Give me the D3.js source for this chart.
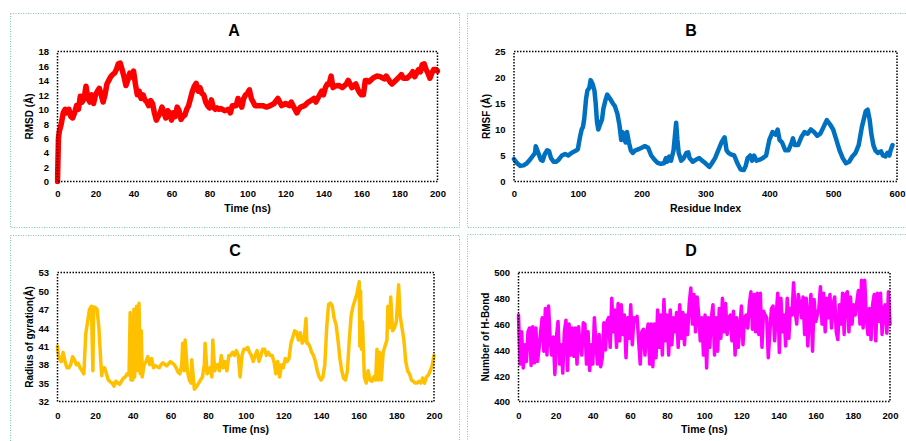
<!DOCTYPE html>
<html><head><meta charset="utf-8">
<script src="https://cdn.jsdelivr.net/npm/d3@7"></script>
<style>body{margin:0;background:#fff}svg{display:block}text{font-family:"Liberation Sans",Arial,sans-serif;font-weight:bold;fill:#000}</style>
</head><body><svg id="c" width="906" height="441"></svg>
<script>
// ---- Data ----
const rmsdData = [[0,0],[0.5,6],[1,7],[2,8],[3,9.5],[4,10],[5,9.5],[6,10],[7,9],[8,8.8],[9,9.5],[10,10.5],[11,10],[12,11.8],[13,11],[14,11.5],[15,13.2],[16,11.5],[17,11],[18,12],[19,10.8],[20,12],[21,12.5],[22,12.9],[23,12],[24,11],[25,12],[26,13.5],[27,14],[28,14.5],[29,14.8],[30,15],[31,15.5],[32,16.3],[33,16.4],[34,15.5],[35,14.5],[36,13.3],[37,14],[38,15],[39,14.5],[40,15.3],[41,13.5],[42,12],[43,12.5],[44,11.5],[45,12],[46,11.3],[47,11],[48,10.5],[49,11.2],[50,10.8],[51,9.5],[52,8.5],[53,9],[54,9.5],[55,10.3],[56,9.5],[57,8.8],[58,9.8],[59,9.5],[60,8.5],[61,9.5],[62,9],[63,10.3],[64,9.8],[65,8.6],[66,9],[67,9.2],[68,10],[69,10.5],[70,11.5],[71,12.5],[72,13.2],[73,13.6],[74,12.5],[75,13],[76,12.2],[77,12],[78,11],[79,10.5],[80,10.2],[81,11.3],[82,10.3],[83,10],[84,10.2],[85,10],[86,10.1],[88,9.8],[90,10],[91,9.5],[92,10.5],[94,10.5],[95,11.5],[96,10.8],[97,10.3],[98,11.5],[99,12],[100,12.2],[101,12.7],[102,11.5],[103,11],[104,10.5],[106,10.5],[108,10.5],[110,10.3],[112,10.5],[114,10.8],[116,11.5],[118,10.5],[120,10.8],[122,10.5],[123,11],[124,10.5],[126,9.5],[127,10],[128,10.3],[130,10.5],[132,11],[134,11.3],[135,11.5],[136,11],[138,12],[139,12.5],[140,12],[141,13],[142,13.5],[143,13.5],[144,14.6],[145,13],[146,13.2],[148,13.3],[150,13],[152,13.5],[153,14],[154,13.5],[155,13],[156,13.3],[157,13.5],[158,12.8],[159,12.3],[160,12],[161,12],[162,14],[163,14],[164,13.8],[166,14.3],[168,14.6],[170,14.5],[172,14.2],[173,14.6],[175,13.8],[176,13.5],[178,14],[180,14.5],[181,14.8],[182,14.3],[184,14.3],[186,14.8],[187,15.2],[188,14.5],[189,15],[190,15.5],[191,15.2],[192,16.2],[193,16.3],[194,15.5],[195,15],[196,14.3],[197,15],[198,15.5],[199,15.5],[200,15.3]];

const rmsfData = [[0,4.3],[5,3.5],[10,3.0],[15,3.1],[20,3.5],[25,4.2],[30,5],[33,5.5],[34,6.8],[38,5.5],[42,4.2],[45,4.0],[48,5.2],[52,6.0],[55,5.8],[58,4.5],[62,3.8],[66,3.8],[70,4.2],[75,5.0],[80,5.3],[85,5.0],[90,5.5],[95,5.8],[100,6.2],[103,8.3],[106,10],[108,10.5],[110,12],[113,16],[115,17.5],[118,18],[120,19.5],[123,18.8],[126,17.5],[128,15],[130,11.5],[132,10],[135,11],[138,12],[140,14],[143,15.5],[146,16.7],[150,16],[155,15],[158,14.5],[162,13],[165,11],[168,8],[170,9.5],[173,8],[175,7.5],[177,9.5],[180,7.5],[183,6],[186,5.5],[190,6],[195,6.2],[200,6.5],[205,6.8],[210,6.5],[215,5],[220,4.2],[225,3.6],[230,3.4],[235,3.5],[238,4.5],[240,3.8],[243,4.8],[246,4.0],[250,6],[254,11.3],[256,8],[258,5.5],[262,4.0],[266,4.5],[270,5.5],[273,5.6],[275,4.5],[280,3.8],[285,4.2],[290,4.5],[295,4.0],[300,3.5],[306,2.8],[310,3.5],[315,4.5],[320,6],[325,7.5],[330,8.5],[333,6],[336,5.5],[340,5.2],[345,5],[350,3.5],[355,2.3],[360,2.2],[363,3],[366,4.5],[370,5],[373,4.0],[376,5],[380,4],[385,4.2],[390,4.5],[395,5],[400,8],[405,9.5],[410,9.0],[413,10],[416,8],[420,7.5],[425,6],[430,6],[435,7.5],[437,8.3],[440,7],[445,7],[450,8.5],[455,9.5],[460,9.2],[465,10],[470,9.5],[475,8.8],[480,9.2],[485,10.5],[490,11.8],[495,11],[500,10],[505,8],[510,6],[515,4.5],[520,3.5],[525,3.8],[530,4.8],[535,5.5],[540,7],[545,10.5],[548,12],[551,13.5],[554,13.8],[557,12],[560,9],[563,7],[566,6],[570,5.5],[575,5.8],[578,5],[582,4.8],[585,5.5],[588,5],[590,6],[593,7]];

const rgData = [[0,41],[0.5,39.5],[1,39],[2,38.5],[3,40],[4,38.5],[5,37.5],[6,37.5],[7,38],[8,39.3],[9,38.8],[10,38],[11,38.2],[12,37.5],[13,37],[14,36.5],[15,43],[16,45],[17,47],[18,47.5],[18.8,37],[19.2,47.4],[20,47.3],[21,47],[22,44],[23,38.5],[23.5,36.2],[24,37.5],[25,37.5],[26,36.5],[27,35.5],[28,35.2],[29,35],[30,34.5],[31,35.3],[32,35],[33,34.8],[34,35.3],[35,35.8],[36,36],[37,36.5],[38,36.3],[38.6,46.5],[39,35.5],[40,35.5],[40.6,47],[41,36],[42,47.5],[42.5,37],[43.3,48],[44,36.5],[44.5,43.5],[45,36],[46,38],[47,38.5],[48,39.3],[49,38],[50,39],[51,37.5],[52,37.8],[54,37.5],[55,38],[56,38.3],[58,37.8],[60,38.5],[62,38],[63,37.5],[64,36.8],[65,36.5],[66,38],[66.5,41.5],[67.2,37],[67.8,42],[69,37],[70,35.5],[71,35],[71.3,38.8],[72.7,34],[74,34.5],[75,35],[76,35.5],[77,36],[78,38],[78.4,41.5],[79.5,36.5],[81,37.5],[82,36],[82.5,42],[83.5,37],[85,38],[86,37],[87,39.5],[88,37.5],[89,38.5],[90,37],[91,39.5],[92,39.5],[93,40],[94,39.5],[95,40.3],[96,39.5],[97,36],[98,39.5],[99,40.5],[100,40.5],[101,40.8],[102,40],[103,39.5],[104,38.5],[105,39.5],[106,40.3],[107,38.5],[108,39.5],[109,40.5],[110,40.5],[111,39.5],[112,40],[113,39.5],[114,39.5],[115,38.5],[116,36.5],[117,38.5],[118,36],[119,38],[120,37.5],[121,39],[122,38.5],[123,39],[124,41.5],[125,42.5],[126,43.5],[127,43.3],[128,42],[129,43.2],[130,41.5],[131,42],[132,45.5],[132.5,41.5],[133,41.5],[134,41],[135,40],[136,39.5],[137,38.5],[138,37],[139,36],[140,35.5],[141,36],[142,38],[143,44],[144,47.8],[145,48],[146,47.5],[147,45.5],[148,44.5],[149,42],[150,39],[151,37],[152,35.8],[153,35.5],[154,37],[155,42],[156,46],[157,47.5],[158,48.5],[159,49.5],[160.3,51.5],[160.6,41],[161,50],[161.5,40.5],[162,45],[163,36],[164,35],[165,37],[166,35.5],[167,35.3],[168,36],[169,35.5],[169.7,40.5],[170.3,35.5],[171,40],[172,35.5],[173,40],[174,41],[175,42],[175.5,47.5],[176.3,44],[177,49],[178,43.5],[179,44],[180,45],[181.2,51],[182,46],[183,44],[184,42],[185,38.5],[186,37],[187,36.5],[188,35.5],[189,35.3],[190,35],[191,35],[192,35.3],[193,35],[194,35.8],[195,35],[196,36],[197,36.3],[198,37],[199,37.8],[200,39.5]];

// H-bond count, evenly sampled over 0-200 ns
const hbondValues = [467,429,454,426,444,431,454,457,428,458,430,457,431,441,454,465,439,472,436,474,449,436,450,421,450,462,429,444,422,454,463,424,460,436,457,435,457,429,458,442,436,461,460,429,454,424,444,429,465,444,429,452,427,434,461,440,462,465,442,480,454,471,442,476,447,475,452,467,434,465,449,475,444,465,462,466,447,429,454,456,436,452,460,429,460,427,460,434,471,442,467,436,479,447,467,436,471,444,465,454,469,442,475,449,469,444,467,452,476,488,460,483,454,481,467,447,465,436,467,426,465,442,465,475,436,465,439,472,449,480,454,476,452,465,467,447,470,436,465,442,457,474,444,465,467,457,475,485,456,483,454,484,452,484,442,470,467,465,434,454,472,474,447,467,484,438,480,454,467,443,480,449,472,467,492,470,460,483,475,465,481,452,480,443,467,483,439,479,462,467,472,489,460,484,454,480,465,483,457,475,481,454,448,475,460,484,452,483,485,454,481,460,475,467,477,486,460,494,457,494,466,452,472,448,475,483,447,484,462,484,452,472,475,453,485,460];
const hbondTimeRange = [0, 200];

const timeTicks = [0,20,40,60,80,100,120,140,160,180,200];
const residueTicks = [0,100,200,300,400,500,600];
const rmsdTicks = [0,2,4,6,8,10,12,14,16,18];
const rmsfTicks = [0,5,10,15,20,25];
const rgTicks = [32,35,38,41,44,47,50,53];
const hbondTicks = [400,420,440,460,480,500];

// ---- Drawing ----
const svg = d3.select("#c");
svg.append("rect").attr("width",906).attr("height",441).attr("fill","#fff");

// panel frames (green dotted)
const frames = [[10,13,449,214],[467,13,445,214],[10,235,449,215],[467,234,445,215]];
frames.forEach(f=>svg.append("rect").attr("x",f[0]+0.5).attr("y",f[1]+0.5).attr("width",f[2]).attr("height",f[3])
  .attr("fill","none").attr("stroke","#74cf9a").attr("stroke-width",1).attr("stroke-dasharray","1,1.5"));

const hbondData = hbondValues.map((v,i)=>[hbondTimeRange[0] + i*(hbondTimeRange[1]-hbondTimeRange[0])/(hbondValues.length-1), v]);

const panels = [
 {title:"A", data:rmsdData, xDom:[0,200], yDom:[0,18], xTicks:timeTicks, yTicks:rmsdTicks, color:"#ff0000", sw:5.5,
  l:57.5,r:437.5,t:51.5,b:181.5, xLabel:"Time (ns)", yLabel:"RMSD (Å)", titleX:234, titleY:36, yLabelX:33, xTickY:197, xLabelY:212},
 {title:"B", data:rmsfData, xDom:[0,600], yDom:[0,25], xTicks:residueTicks, yTicks:rmsfTicks, color:"#0070c0", sw:4.5,
  l:514,r:897,t:51.5,b:181.5, xLabel:"Residue Index", yLabel:"RMSF (Å)", titleX:691, titleY:36, yLabelX:490, xTickY:197, xLabelY:212},
 {title:"C", data:rgData, xDom:[0,200], yDom:[32,53], xTicks:timeTicks, yTicks:rgTicks, color:"#ffc000", sw:3.5,
  l:57.5,r:434,t:272.5,b:401.5, xLabel:"Time (ns)", yLabel:"Radius of gyration(Å)", titleX:235, titleY:256, yLabelX:33, xTickY:419, xLabelY:433},
 {title:"D", data:hbondData, xDom:[0,200], yDom:[400,500], xTicks:timeTicks, yTicks:hbondTicks, color:"#ff00ff", sw:3.5,
  l:518.5,r:890,t:272.5,b:401.5, xLabel:"Time (ns)", yLabel:"Number of H-Bond", titleX:691, titleY:256, yLabelX:489, xTickY:419, xLabelY:433}
];

panels.forEach((p,i)=>{
  const x = d3.scaleLinear().domain(p.xDom).range([p.l,p.r]);
  const y = d3.scaleLinear().domain(p.yDom).range([p.b,p.t]);
  const g = svg.append("g");
  const cid = "clip"+i;
  g.append("clipPath").attr("id",cid).append("rect").attr("x",p.l-3).attr("y",p.t-3).attr("width",p.r-p.l+6).attr("height",p.b-p.t+6);
  g.append("path").datum(p.data).attr("clip-path",`url(#${cid})`)
    .attr("d", d3.line().x(d=>x(d[0])).y(d=>y(d[1])))
    .attr("fill","none").attr("stroke",p.color).attr("stroke-width",p.sw)
    .attr("stroke-linejoin","round").attr("stroke-linecap","round");
  g.append("rect").attr("x",p.l).attr("y",p.t).attr("width",p.r-p.l).attr("height",p.b-p.t)
    .attr("fill","none").attr("stroke","#000").attr("stroke-width",1.5).attr("stroke-dasharray","1.5,1.5");
  // axes (labels only)
  const xa = g.append("g").attr("transform",`translate(0,${p.b})`)
    .call(d3.axisBottom(x).tickValues(p.xTicks).tickSize(0).tickPadding(0).tickFormat(d3.format("d")));
  xa.select(".domain").remove();
  xa.selectAll("text").attr("y", p.xTickY - p.b).attr("dy",0).attr("font-size",9.5).attr("font-family",null);
  const ya = g.append("g").attr("transform",`translate(${p.l},0)`)
    .call(d3.axisLeft(y).tickValues(p.yTicks).tickSize(0).tickPadding(8.5).tickFormat(d3.format("d")));
  ya.select(".domain").remove();
  ya.selectAll("text").attr("dy","0.35em").attr("font-size",9.5).attr("font-family",null);
  g.append("text").attr("x",p.titleX).attr("y",p.titleY).attr("text-anchor","middle").attr("font-size",16).text(p.title);
  g.append("text").attr("x",(p.l+p.r)/2).attr("y",p.xLabelY).attr("text-anchor","middle").attr("font-size",10.5).text(p.xLabel);
  g.append("text").attr("transform",`translate(${p.yLabelX},${(p.t+p.b)/2}) rotate(-90)`).attr("text-anchor","middle").attr("font-size",10).text(p.yLabel);
});
</script></body></html>
